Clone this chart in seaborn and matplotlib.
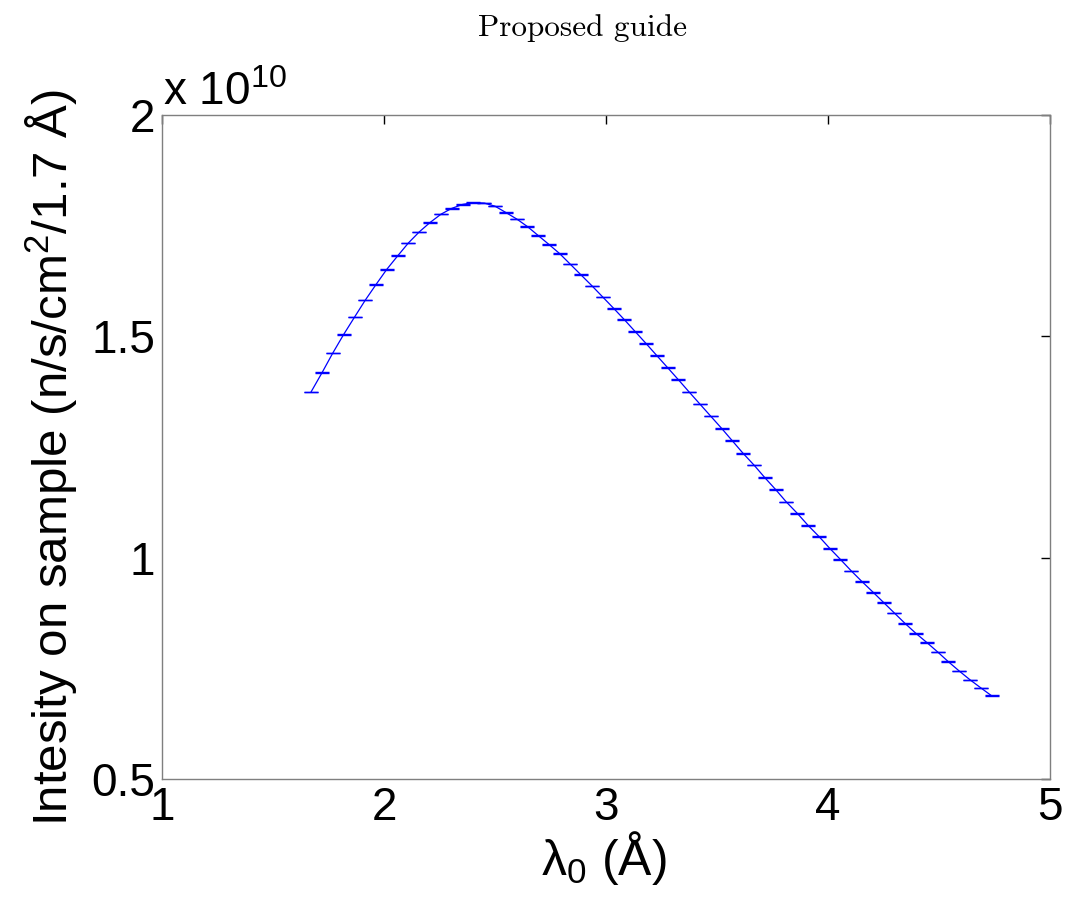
import numpy as np
import pandas as pd
import matplotlib
matplotlib.use("Agg")
import matplotlib.pyplot as plt
import seaborn as sns

# Wavelength (Å) and intensity on sample (units of 1e10 n/s/cm^2/1.7 Å)
wavelength = [
    1.671, 1.721, 1.769, 1.818, 1.868, 1.916, 1.964, 2.012, 2.062, 2.110,
    2.159, 2.207, 2.257, 2.305, 2.354, 2.402, 2.452, 2.500, 2.548, 2.598,
    2.646, 2.694, 2.742, 2.791, 2.839, 2.887, 2.937, 2.985, 3.035, 3.082,
    3.131, 3.180, 3.228, 3.278, 3.326, 3.375, 3.423, 3.471, 3.521, 3.569,
    3.617, 3.667, 3.715, 3.764, 3.812, 3.862, 3.910, 3.959, 4.008, 4.056,
    4.105, 4.153, 4.203, 4.250, 4.299, 4.348, 4.396, 4.446, 4.494, 4.542,
    4.591, 4.640, 4.688, 4.737,
]
intensity = [
    1.374, 1.418, 1.462, 1.504, 1.544, 1.582, 1.617, 1.651, 1.682, 1.711,
    1.736, 1.757, 1.776, 1.789, 1.798, 1.802, 1.801, 1.794, 1.780, 1.765,
    1.748, 1.728, 1.708, 1.687, 1.663, 1.639, 1.614, 1.589, 1.563, 1.538,
    1.511, 1.484, 1.457, 1.429, 1.402, 1.374, 1.347, 1.320, 1.292, 1.264,
    1.236, 1.209, 1.181, 1.154, 1.126, 1.100, 1.073, 1.048, 1.021, 0.996,
    0.970, 0.946, 0.922, 0.899, 0.875, 0.851, 0.829, 0.808, 0.787, 0.765,
    0.744, 0.724, 0.706, 0.688,
]
# statistical uncertainty on each point (same units)
intensity_err = [0.0007] * len(intensity)

x_ticks = [1, 2, 3, 4, 5]
y_ticks = [0.5, 1, 1.5, 2]

df = pd.DataFrame({"wavelength": wavelength, "intensity": intensity,
                   "err": intensity_err})

sns.set_style("white")
plt.rcParams["font.family"] = ["Liberation Sans", "DejaVu Sans"]
plt.rcParams["mathtext.fontset"] = "custom"
plt.rcParams["mathtext.rm"] = "Liberation Sans"
plt.rcParams["mathtext.it"] = "Liberation Sans:italic"
plt.rcParams["text.color"] = "black"
plt.rcParams["xtick.color"] = "black"
plt.rcParams["ytick.color"] = "black"

fig = plt.figure(figsize=(10.7, 9.09), dpi=100)
ax = fig.add_axes([162 / 1070, 1 - 779 / 909, 888 / 1070, 664 / 909])

blue = "#0000ff"
sns.lineplot(data=df, x="wavelength", y="intensity", ax=ax, color=blue,
             linewidth=0.9, errorbar=None)
ax.errorbar(df["wavelength"], df["intensity"], yerr=df["err"], fmt="none",
            ecolor=blue, elinewidth=0.9, capsize=4.7, capthick=1.0)

ax.set_xlim(1, 5)
ax.set_ylim(0.5, 2)
ax.set_xticks(x_ticks)
ax.set_yticks(y_ticks)
ax.set_xticklabels([f"{t:g}" for t in x_ticks])
ax.set_yticklabels([f"{t:g}" for t in y_ticks])
ax.set_xlabel("")
ax.set_ylabel("")

ax.tick_params(axis="both", which="both", direction="in", length=6.5,
               width=1.0, color="black", labelcolor="black", labelsize=33,
               top=True, right=True, pad=5)
for s in ax.spines.values():
    s.set_visible(True)
    s.set_color("#7f7f7f")
    s.set_linewidth(1.0)

# scale factor label above the y axis
fig.text(163 / 1070, 1 - 105 / 909, r"x 10$^{10}$", fontsize=33,
         ha="left", va="baseline")

fig.text(52 / 1070, 1 - 457 / 909,
         r"Intesity on sample (n/s/cm$^2$/1.7 Å)", rotation=90,
         fontsize=35.5, ha="center", va="center")
fig.text(604 / 1070, 1 - 858 / 909, r"λ$_0$ (Å)", fontsize=36,
         ha="center", va="center")
fig.text(583 / 1070, 1 - 28 / 909, "Proposed guide", fontsize=22.5,
         family="cmr10", ha="center", va="center")

fig.savefig("out.png", dpi=100, facecolor="white")
